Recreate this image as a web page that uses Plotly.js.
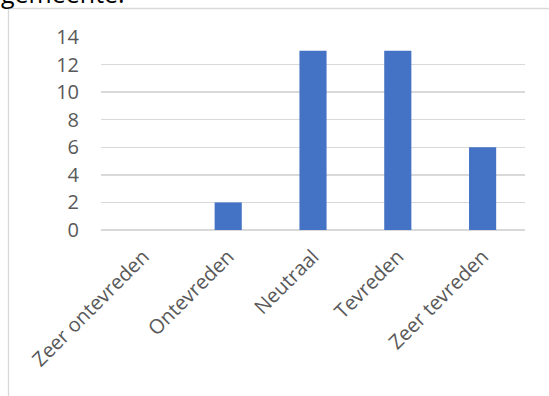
<!DOCTYPE html>
<html>
<head>
<meta charset="utf-8">
<script src="https://cdn.plot.ly/plotly-3.0.1.min.js"></script>
<style>
  html, body { margin: 0; padding: 0; background: #ffffff; }
  #chart { width: 549px; height: 396px; }
</style>
</head>
<body>
<div id="chart"></div>
<script>
// Tevredenheid: aantal antwoorden per categorie
const categories = ['Zeer ontevreden', 'Ontevreden', 'Neutraal', 'Tevreden', 'Zeer tevreden'];
const counts = [0, 2, 13, 13, 6];
const yTicks = [0, 2, 4, 6, 8, 10, 12, 14];

const W = 549, H = 396;
const margin = { l: 101, r: 24, t: 37, b: 166 };
const plotW = W - margin.l - margin.r;
const plotH = H - margin.t - margin.b;
// pixel -> paper helpers for the outer frame and the caption above it
const px = x => (x - margin.l) / plotW;
const py = y => (H - margin.b - y) / plotH;

const font = '"Open Sans", "Noto Sans", sans-serif';

const trace = {
  type: 'bar',
  x: categories,
  y: counts,
  marker: { color: '#4472C4', line: { width: 0 } },
  hoverinfo: 'none'
};

const layout = {
  width: W,
  height: H,
  margin: margin,
  paper_bgcolor: '#ffffff',
  plot_bgcolor: '#ffffff',
  showlegend: false,
  bargap: 0.68,
  font: { family: font, color: '#595959', size: 20 },
  xaxis: {
    type: 'category',
    tickangle: -45,
    showgrid: false,
    zeroline: false,
    showline: false,
    ticks: '',
    ticklabelstandoff: 10,
    tickfont: { family: font, size: 20, color: '#595959' }
  },
  yaxis: {
    range: [0, 14],
    tickvals: yTicks,
    ticktext: yTicks.map(String),
    showgrid: true,
    gridcolor: '#d9d9d9',
    gridwidth: 1.3,
    zeroline: true,
    zerolinecolor: '#d9d9d9',
    zerolinewidth: 1.3,
    showline: false,
    ticks: '',
    ticklabelstandoff: 21,
    tickfont: { family: font, size: 20, color: '#595959' }
  },
  shapes: [
    { type: 'line', xref: 'paper', yref: 'paper', x0: px(8.5), x1: px(8.5), y0: py(8.5), y1: py(H + 2), line: { color: '#d9d9d9', width: 1.3 } },
    { type: 'line', xref: 'paper', yref: 'paper', x0: px(8), x1: px(W + 2), y0: py(8.5), y1: py(8.5), line: { color: '#d9d9d9', width: 1.3 } }
  ],
  annotations: [
    {
      text: 'gemeente.',
      xref: 'paper', yref: 'paper',
      x: px(-1), y: py(12),
      xanchor: 'left', yanchor: 'bottom',
      showarrow: false,
      font: { family: font, size: 25, color: '#000000' }
    }
  ]
};

Plotly.newPlot('chart', [trace], layout, { staticPlot: true, displayModeBar: false });
</script>
</body>
</html>
